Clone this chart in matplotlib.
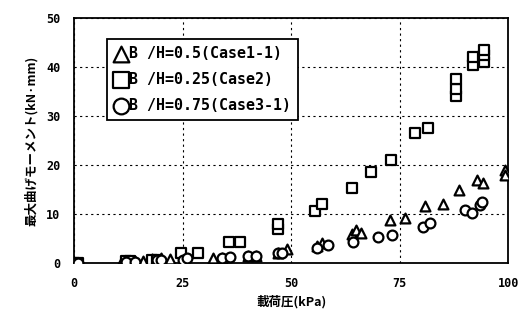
import matplotlib
matplotlib.use("Agg")
import matplotlib.pyplot as plt

plt.rcParams['font.family'] = ['Noto Sans CJK JP', 'DejaVu Sans']
plt.rcParams['font.weight'] = 'bold'

# Case1-1 (triangles) B/H=0.5
tri_x = [0, 1, 11, 14, 16, 18, 20, 22, 32, 34, 40, 42, 47, 49, 56, 57, 64, 65, 66,
         72.8, 76.3, 80.9, 85, 88.7, 92.9, 94.3, 99.3, 99.3]
tri_y = [0, 0, 0.3, 0.3, 0.3, 0.8, 1.0, 0.8, 1.0, 1.0, 1.5, 1.5, 2.0, 2.8, 3.5, 4.0, 6.0, 6.7, 6.2,
         8.8, 9.2, 11.6, 12.0, 14.9, 16.9, 16.3, 19.0, 18.0]

# Case2 (squares) B/H=0.25
sq_x = [0, 1, 12, 13, 18, 19, 24.7, 28.6, 35.7, 38.2, 47, 47, 55.5, 57, 64, 68.5, 73,
        78.5, 81.5, 88, 88, 88, 92, 92, 94.5, 94.5, 94.5]
sq_y = [0, 0, 0.3, 0.3, 0.5, 0.5, 2.0, 2.0, 4.2, 4.2, 7.0, 8.0, 10.5, 12.0, 15.3, 18.5, 21.0,
        26.5, 27.5, 34.0, 35.5, 37.5, 40.5, 42.0, 41.0, 42.5, 43.5]

# Case3-1 (circles) B/H=0.75
ci_x = [0, 1, 12, 14, 19, 20, 25, 26, 34, 36, 40, 42, 47, 48, 56, 58.5, 64.3, 70, 73.3,
        80.4, 82, 90, 91.7, 93.5, 94]
ci_y = [0, 0, 0.2, 0.2, 0.5, 0.5, 0.5, 1.0, 1.0, 1.2, 1.5, 1.5, 2.0, 2.0, 3.0, 3.7, 4.3, 5.3, 5.7,
        7.3, 8.1, 10.8, 10.2, 11.8, 12.4]

labels = ["B /H=0.5(Case1-1)", "B /H=0.25(Case2)", "B /H=0.75(Case3-1)"]
xticks = [0, 25, 50, 75, 100]
yticks = [0, 10, 20, 30, 40, 50]

fig = plt.figure(figsize=(5.25, 3.27), dpi=100)
ax = fig.add_axes([0.141, 0.196, 0.827, 0.749])

mk = dict(facecolor='white', edgecolor='black', linewidths=1.6, s=50, zorder=3)
ax.scatter(tri_x, tri_y, marker='^', label=labels[0], **mk)
ax.scatter(sq_x, sq_y, marker='s', label=labels[1], **mk)
ax.scatter(ci_x, ci_y, marker='o', label=labels[2], **mk)

ax.set_xlim(0, 100)
ax.set_ylim(0, 50)
ax.set_xticks(xticks)
ax.set_yticks(yticks)
ax.tick_params(length=0, labelsize=8.5, pad=10)
for lab in ax.get_xticklabels() + ax.get_yticklabels():
    lab.set_fontweight('bold')
    lab.set_family(['DejaVu Sans Mono'])
ax.grid(True, color='black', linestyle=(0, (2, 3)), linewidth=0.8)
for s in ax.spines.values():
    s.set_linewidth(1.3)

ax.set_xlabel("載荷圧(kPa)", fontsize=9, fontweight='bold', labelpad=4)
ax.set_ylabel("最大曲げモーメント(kN·mm)", fontsize=9, fontweight='bold', labelpad=6)

leg = ax.legend(loc='upper left', bbox_to_anchor=(0.076, 0.914), frameon=True, fancybox=False,
                edgecolor='black', handletextpad=0.1, borderpad=0.45,
                labelspacing=0.75, handlelength=0.9, borderaxespad=0, markerscale=1.6,
                framealpha=1, prop={'family': ['DejaVu Sans Mono'], 'weight': 'bold', 'size': 10.8})
leg.get_frame().set_linewidth(1.3)

fig.savefig("out.png", dpi=100)
